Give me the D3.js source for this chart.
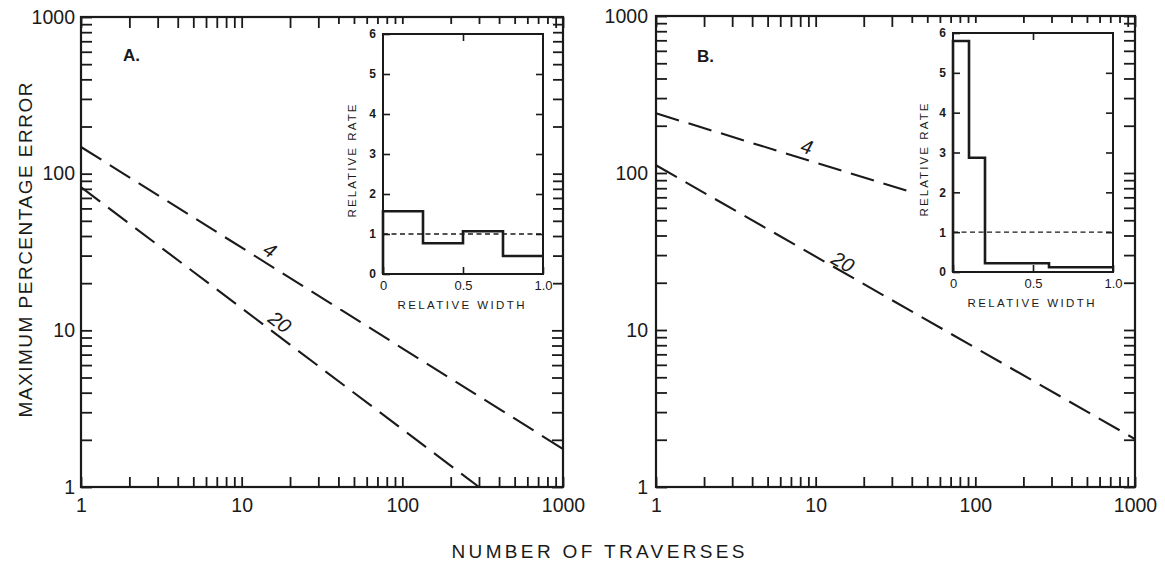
<!DOCTYPE html>
<html>
<head>
<meta charset="utf-8">
<script src="https://cdn.jsdelivr.net/npm/d3@7"></script>
<style>
  html, body { margin: 0; padding: 0; background: #fff; }
  svg { display: block; }
  text { font-family: "Liberation Sans", Arial, Helvetica, sans-serif; fill: #1a1a1a; }
</style>
</head>
<body>
<svg id="chart" width="1165" height="562"></svg>
<script>
// ---------- data ----------
const decadeTicks = [1, 10, 100, 1000];
const insetYTicks = [0, 1, 2, 3, 4, 5, 6];
const insetXTicks = [0, 0.5, 1.0];
const insetXTickLabels = ["0", "0.5", "1.0"];

// Panel A lines (number of traverses -> max percentage error)
const nA4 = [1, 1000];
const errA4 = [148, 1.75];
const nA20 = [1, 300];
const errA20 = [82, 1];
// Panel B lines
const nB4 = [1, 39];
const errB4 = [240, 76];
const nB20 = [1, 1000];
const errB20 = [112, 2.02];

// Line labels (text, n, err)
const labelsA = [["4", 15, 32.6], ["20", 17.3, 11.3]];
const labelsB = [["4", 8.8, 147], ["20", 14.8, 27.1]];

// Inset histograms
const edgesA = [0, 0.25, 0.5, 0.75, 1.0];
const ratesA = [1.57, 0.77, 1.07, 0.45];
const edgesB = [0, 0.1, 0.2, 0.6, 1.0];
const ratesB = [5.8, 2.87, 0.22, 0.12];

const ink = "#1a1a1a";
const svg = d3.select("#chart");

function drawPanel(cfg) {
  const g = svg.append("g");
  const x = d3.scaleLog().domain([1, 1000]).range([cfg.x0, cfg.x1]);
  const y = d3.scaleLog().domain([1, 1000]).range([cfg.y0, cfg.y1]);
  const allTicks = x.ticks();
  const fmt = d => decadeTicks.includes(d) ? String(d) : "";

  const bx = g.append("g").attr("transform", `translate(0,${cfg.y0})`)
    .call(d3.axisBottom(x).tickValues(allTicks).tickFormat(fmt).tickSizeInner(-10).tickSizeOuter(0).tickPadding(11));
  const tx = g.append("g").attr("transform", `translate(0,${cfg.y1})`)
    .call(d3.axisTop(x).tickValues(allTicks).tickFormat("").tickSizeInner(-11).tickSizeOuter(0));
  const ly = g.append("g").attr("transform", `translate(${cfg.x0},0)`)
    .call(d3.axisLeft(y).tickValues(allTicks).tickFormat(fmt).tickSizeInner(-11).tickSizeOuter(0).tickPadding(cfg.ypad));
  const ry = g.append("g").attr("transform", `translate(${cfg.x1},0)`)
    .call(d3.axisRight(y).tickValues(allTicks).tickFormat("").tickSizeInner(-11).tickSizeOuter(0));
  [bx, tx, ly, ry].forEach(a => {
    a.select(".domain").remove();
    a.selectAll("line").attr("stroke", ink).attr("stroke-width", 1.8);
    a.selectAll("text").attr("font-size", 19.5).attr("fill", ink)
      .style("font-family", '"Liberation Sans", Arial, sans-serif');
  });

  g.append("rect").attr("x", cfg.x0).attr("y", cfg.y1)
    .attr("width", cfg.x1 - cfg.x0).attr("height", cfg.y0 - cfg.y1)
    .attr("fill", "none").attr("stroke", ink).attr("stroke-width", 2.2);

  g.append("text").attr("x", cfg.letterX).attr("y", cfg.letterY)
    .attr("font-size", 17).attr("font-weight", "bold").text(cfg.letter);

  const line = d3.line().x(d => x(d[0])).y(d => y(d[1]));
  cfg.lines.forEach(([ns, es]) => {
    const pts = ns.map((n, i) => [n, es[i]]);
    g.append("path").attr("d", line(pts)).attr("fill", "none")
      .attr("stroke", ink).attr("stroke-width", 2.1)
      .attr("stroke-dasharray", "24,10");
  });

  cfg.labels.forEach(([t, n, e], i) => {
    const [ns, es] = cfg.lines[i];
    const ang = Math.atan2(y(es[1]) - y(es[0]), x(ns[1]) - x(ns[0])) * 180 / Math.PI;
    g.append("text").attr("transform", `translate(${x(n)},${y(e)}) rotate(${ang})`)
      .attr("text-anchor", "middle").attr("dominant-baseline", "central")
      .attr("font-size", 20).attr("font-style", "italic").text(t);
  });

  return { x, y };
}

function drawInset(cfg) {
  const g = svg.append("g");
  const x = d3.scaleLinear().domain([0, 1]).range([cfg.x0, cfg.x1]);
  const y = d3.scaleLinear().domain([0, 6]).range([cfg.y0, cfg.y1]);

  g.append("rect").attr("x", cfg.x0 - 45).attr("y", cfg.y1 - 10)
    .attr("width", cfg.x1 - cfg.x0 + 55).attr("height", cfg.y0 - cfg.y1 + 45)
    .attr("fill", "#fff");

  const la = g.append("g").attr("transform", `translate(${cfg.x0},0)`)
    .call(d3.axisLeft(y).tickValues(insetYTicks).tickFormat(d3.format("d")).tickSizeInner(-7).tickSizeOuter(0).tickPadding(7));
  const ra = g.append("g").attr("transform", `translate(${cfg.x1},0)`)
    .call(d3.axisRight(y).tickValues(insetYTicks.slice(1, 6)).tickFormat("").tickSizeInner(-7).tickSizeOuter(0));
  const ba = g.append("g").attr("transform", `translate(0,${cfg.y0})`)
    .call(d3.axisBottom(x).tickValues(insetXTicks).tickFormat((d, i) => insetXTickLabels[i]).tickSizeInner(-7).tickSizeOuter(0).tickPadding(7));
  const ta = g.append("g").attr("transform", `translate(0,${cfg.y1})`)
    .call(d3.axisTop(x).tickValues([0.5]).tickFormat("").tickSizeInner(-7).tickSizeOuter(0));
  [la, ra, ba, ta].forEach(a => {
    a.select(".domain").remove();
    a.selectAll("line").attr("stroke", ink).attr("stroke-width", 1.6);
    a.selectAll("text").attr("font-size", 12).attr("font-weight", "bold").attr("fill", ink)
      .style("font-family", '"Liberation Sans", Arial, sans-serif');
  });
  ba.selectAll("text").attr("font-weight", "normal").attr("font-size", 13);

  g.append("line").attr("x1", x(0)).attr("x2", x(1)).attr("y1", y(1)).attr("y2", y(1))
    .attr("stroke", ink).attr("stroke-width", 1.3).attr("stroke-dasharray", "5,3.5");

  g.append("rect").attr("x", cfg.x0).attr("y", cfg.y1)
    .attr("width", cfg.x1 - cfg.x0).attr("height", cfg.y0 - cfg.y1)
    .attr("fill", "none").attr("stroke", ink).attr("stroke-width", 2);

  const pts = cfg.edges.map((e, i) => [e, i < cfg.rates.length ? cfg.rates[i] : cfg.rates[cfg.rates.length - 1]]);
  const line = d3.line().x(d => x(d[0])).y(d => y(d[1])).curve(d3.curveStepAfter);
  g.append("path").attr("d", line([[0, 0]].concat(pts))).attr("fill", "none")
    .attr("stroke", ink).attr("stroke-width", 2.6).attr("stroke-linejoin", "miter");

  g.append("text").attr("x", (cfg.x0 + cfg.x1) / 2 - 2).attr("y", cfg.y0 + 35)
    .attr("text-anchor", "middle").attr("font-size", 11.5)
    .attr("textLength", 127).attr("lengthAdjust", "spacing").text("RELATIVE WIDTH");
  g.append("text").attr("transform", `translate(${cfg.rateX},${cfg.rateY}) rotate(-90)`)
    .attr("text-anchor", "middle").attr("dominant-baseline", "central").attr("font-size", 11.5)
    .attr("textLength", 113).attr("lengthAdjust", "spacing").text("RELATIVE RATE");
}

drawPanel({ x0: 81, x1: 563, y0: 487, y1: 17, ypad: 6, letter: "A.", letterX: 123, letterY: 61,
  lines: [[nA4, errA4], [nA20, errA20]], labels: labelsA });
drawPanel({ x0: 656, x1: 1135, y0: 487, y1: 16, ypad: 8, letter: "B.", letterX: 697, letterY: 62,
  lines: [[nB4, errB4], [nB20, errB20]], labels: labelsB });

drawInset({ x0: 383, x1: 543, y0: 274, y1: 34, edges: edgesA, rates: ratesA, rateX: 352, rateY: 161 });
drawInset({ x0: 953, x1: 1113, y0: 272, y1: 33, edges: edgesB, rates: ratesB, rateX: 924, rateY: 160 });

svg.append("text").attr("transform", "translate(25,250) rotate(-90)")
  .attr("text-anchor", "middle").attr("dominant-baseline", "central")
  .attr("font-size", 19).attr("textLength", 335).attr("lengthAdjust", "spacing")
  .text("MAXIMUM PERCENTAGE ERROR");
svg.append("text").attr("x", 598).attr("y", 558)
  .attr("text-anchor", "middle").attr("font-size", 19)
  .attr("textLength", 293).attr("lengthAdjust", "spacing")
  .text("NUMBER OF TRAVERSES");
</script>
</body>
</html>
